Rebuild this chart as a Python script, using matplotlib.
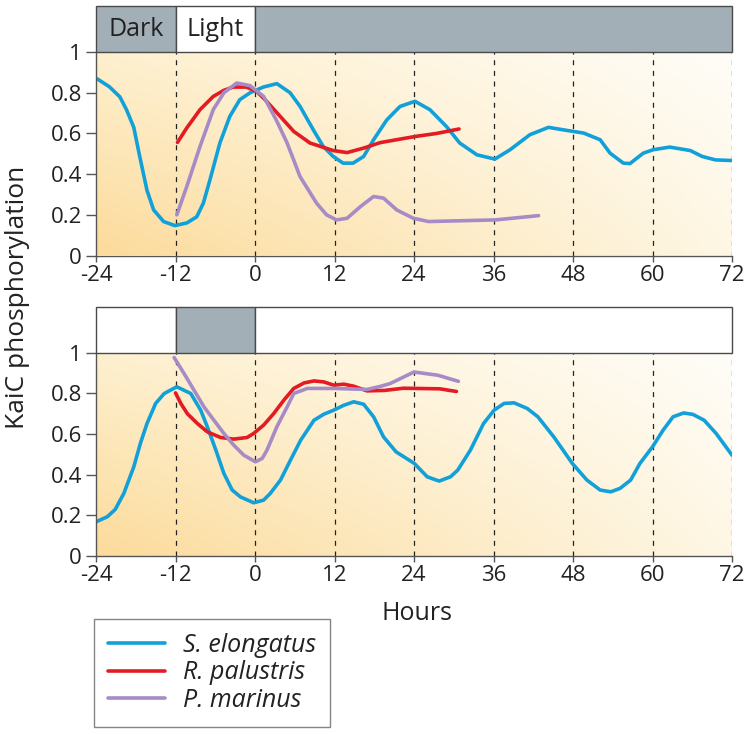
import numpy as np
import matplotlib
matplotlib.use("Agg")
from matplotlib import pyplot as plt
from matplotlib.patches import Rectangle

plt.rcParams['font.family'] = ['Open Sans', 'DejaVu Sans']

# Top panel (Dark / Light entrainment)
top_se_h = [-23.8, -22.0, -20.4, -19.4, -18.3, -17.4, -16.3, -15.3, -13.8, -12.1, -10.3, -8.8, -7.8,
            -6.8, -5.3, -3.8, -2.3, -0.75, 1.25, 3.3, 5.3, 6.8, 8.8, 10.3, 11.8, 13.3, 14.8, 16.4,
            17.9, 18.9, 19.9, 21.9, 24.15, 26.4, 28.9, 30.9, 33.5, 36.2, 38.5, 41.5, 44.3, 46.5,
            49.6, 52.1, 53.6, 55.6, 56.6, 58.6, 60.1, 62.6, 65.7, 67.5, 69.5, 72.0]
top_se_v = [0.868, 0.83, 0.78, 0.717, 0.63, 0.487, 0.32, 0.224, 0.167, 0.147, 0.16, 0.19, 0.257,
            0.372, 0.553, 0.684, 0.766, 0.80, 0.828, 0.845, 0.80, 0.733, 0.618, 0.536, 0.487, 0.454,
            0.454, 0.487, 0.569, 0.618, 0.667, 0.733, 0.758, 0.717, 0.634, 0.553, 0.495, 0.474, 0.52,
            0.594, 0.63, 0.618, 0.602, 0.569, 0.503, 0.454, 0.452, 0.503, 0.52, 0.533, 0.516, 0.487,
            0.47, 0.467]

top_rp_h = [-11.7, -10.3, -8.3, -6.3, -4.7, -3.3, -1.3, 0.25, 1.75, 3.8, 5.85, 8.3, 11.8, 13.9,
            16.4, 18.9, 24.15, 27.4, 30.8]
top_rp_v = [0.556, 0.627, 0.717, 0.782, 0.812, 0.828, 0.828, 0.807, 0.758, 0.684, 0.61, 0.553,
            0.516, 0.506, 0.528, 0.555, 0.585, 0.60, 0.622]

top_pm_h = [-11.8, -10.3, -8.3, -6.3, -4.7, -2.75, -0.75, 1.3, 3.2, 4.85, 6.8, 9.3, 10.8, 12.3,
            13.9, 15.9, 17.9, 19.4, 21.4, 23.9, 26.2, 32.5, 36.3, 42.8]
top_pm_v = [0.20, 0.339, 0.536, 0.717, 0.80, 0.848, 0.835, 0.782, 0.667, 0.553, 0.388, 0.257, 0.20,
            0.175, 0.183, 0.24, 0.29, 0.282, 0.224, 0.183, 0.167, 0.172, 0.175, 0.196]

# Bottom panel (Light / Dark entrainment)
bot_se_h = [-24.0, -22.3, -21.1, -19.8, -18.3, -17.3, -16.3, -15.0, -13.7, -11.8, -9.7, -8.2, -7.2,
            -5.9, -4.7, -3.45, -2.2, -0.2, 1.3, 2.3, 3.85, 5.35, 6.9, 8.9, 10.4, 11.9, 13.4, 14.9,
            16.4, 17.9, 19.4, 21.3, 24.05, 26.0, 27.8, 29.5, 30.6, 32.5, 34.5, 36.1, 37.6, 39.1,
            41.1, 42.7, 45.1, 47.9, 50.1, 52.1, 53.7, 55.1, 56.7, 58.1, 60.0, 61.6, 63.1, 64.7,
            66.1, 67.8, 69.6, 72.0]
bot_se_v = [0.167, 0.192, 0.228, 0.307, 0.438, 0.554, 0.652, 0.751, 0.80, 0.833, 0.80, 0.718, 0.636,
            0.52, 0.406, 0.324, 0.29, 0.261, 0.274, 0.307, 0.373, 0.471, 0.57, 0.668, 0.698, 0.718,
            0.742, 0.759, 0.747, 0.685, 0.586, 0.512, 0.455, 0.389, 0.368, 0.389, 0.422, 0.52, 0.652,
            0.718, 0.751, 0.754, 0.726, 0.685, 0.586, 0.455, 0.373, 0.324, 0.315, 0.332, 0.373,
            0.455, 0.537, 0.619, 0.685, 0.704, 0.697, 0.668, 0.603, 0.496]

bot_rp_h = [-12.0, -11.2, -10.2, -8.7, -7.2, -5.2, -3.2, -1.2, -0.2, 1.3, 2.8, 4.35, 5.85, 7.4, 8.9,
            10.4, 11.9, 13.4, 14.9, 16.9, 19.5, 22.4, 27.9, 30.4]
bot_rp_v = [0.803, 0.751, 0.70, 0.652, 0.611, 0.583, 0.575, 0.583, 0.603, 0.644, 0.70, 0.767, 0.825,
            0.852, 0.862, 0.857, 0.841, 0.846, 0.836, 0.813, 0.815, 0.826, 0.823, 0.81]

bot_pm_h = [-12.2, -10.7, -9.2, -7.7, -6.2, -4.7, -3.2, -1.7, 0.07, 1.1, 1.8, 3.3, 4.85, 5.85, 7.9,
            11.9, 16.9, 18.9, 20.4, 24.0, 27.6, 30.7]
bot_pm_v = [0.977, 0.898, 0.816, 0.734, 0.668, 0.603, 0.545, 0.496, 0.463, 0.48, 0.52, 0.636, 0.734,
            0.80, 0.825, 0.825, 0.82, 0.835, 0.849, 0.906, 0.89, 0.86]

hour_ticks = [-24, -12, 0, 12, 24, 36, 48, 60, 72]
y_ticks = [0, 0.2, 0.4, 0.6, 0.8, 1]
y_labels = ['0', '0.2', '0.4', '0.6', '0.8', '1']

# light regimes: (start, end, dark?)
top_bar = [(-24, -12, True), (-12, 0, False), (0, 72, True)]
bot_bar = [(-24, -12, False), (-12, 0, True), (0, 72, False)]

c_se = '#12a0d9'
c_rp = '#e31b23'
c_pm = '#a68bc7'
bar_gray = '#a2afb6'
bar_h = 46 / 203.0

fig = plt.figure(figsize=(7.5, 7.34), dpi=100)
ax1 = fig.add_axes([96 / 750, 1 - 255.5 / 734, 636 / 750, 249.5 / 734])
ax2 = fig.add_axes([96 / 750, 1 - 555.7 / 734, 636 / 750, 248.7 / 734])

# background gradient (orange bottom-left -> white top-right)
xx, yy = np.meshgrid(np.linspace(0, 1, 200), np.linspace(0, 1, 100))
bl = np.array([252, 219, 155]) / 255.
tl = np.array([254, 240, 207]) / 255.
tr = np.array([255, 253, 248]) / 255.
br = np.array([254, 247, 228]) / 255.
grad = ((1 - xx)[..., None] * (1 - yy)[..., None] * bl + (1 - xx)[..., None] * yy[..., None] * tl
        + xx[..., None] * yy[..., None] * tr + xx[..., None] * (1 - yy)[..., None] * br)


def setup(ax, bars, labels):
    ax.set_xlim(-24, 72)
    ax.set_ylim(0, 1 + bar_h)
    ax.imshow(grad, extent=(-24, 72, 0, 1), origin='lower', aspect='auto', zorder=0)
    for s, e, dark in bars:
        ax.add_patch(Rectangle((s, 1), e - s, bar_h, facecolor=bar_gray if dark else 'white',
                               edgecolor='#4a4a4a', lw=1.0, zorder=3, clip_on=False))
    for h in hour_ticks[1:]:
        ax.plot([h, h], [0, 1], color='#222222', lw=0.9, ls=(0, (4, 4.5)), zorder=1)
    for sp in ['top', 'right']:
        ax.spines[sp].set_visible(False)
    ax.spines['left'].set_bounds(0, 1)
    for sp in ['left', 'bottom']:
        ax.spines[sp].set_color('#555555')
        ax.spines[sp].set_linewidth(1.0)
    ax.set_xticks(hour_ticks)
    ax.set_xticklabels([str(h) for h in hour_ticks])
    ax.set_yticks(y_ticks)
    ax.set_yticklabels(y_labels)
    ax.tick_params(direction='out', width=1, color='#555555', labelsize=16,
                   labelcolor='#222222')
    ax.tick_params(axis='x', length=4.5, pad=2)
    ax.tick_params(axis='y', length=7, pad=3)
    for txt, x in labels:
        ax.text(x, 1 + bar_h / 2, txt, ha='center', va='center', fontsize=18,
                color='#222222', zorder=4)


setup(ax1, top_bar, [('Dark', -18), ('Light', -6)])
setup(ax2, bot_bar, [])

lw = 2.6
kw = dict(lw=lw, solid_joinstyle='round', solid_capstyle='round', zorder=2)
ax1.plot(top_se_h, top_se_v, color=c_se, **kw)
ax1.plot(top_rp_h, top_rp_v, color=c_rp, **kw)
ax1.plot(top_pm_h, top_pm_v, color=c_pm, **kw)

l1, = ax2.plot(bot_se_h, bot_se_v, color=c_se, **kw)
l2, = ax2.plot(bot_rp_h, bot_rp_v, color=c_rp, **kw)
l3, = ax2.plot(bot_pm_h, bot_pm_v, color=c_pm, **kw)

fig.text(0.024, 0.595, 'KaiC phosphorylation', rotation=90, ha='center', va='center',
         fontsize=19, color='#222222')
fig.text(417 / 750, 1 - 613 / 734, 'Hours', ha='center', va='center', fontsize=18, color='#222222')

leg = fig.legend([l1, l2, l3], ['S. elongatus', 'R. palustris', 'P. marinus'],
                 loc='upper left', bbox_to_anchor=(94 / 750, 1 - 619 / 734),
                 frameon=True, fancybox=False, handlelength=2.3, handletextpad=0.7,
                 labelspacing=0.1, borderpad=0.55, borderaxespad=0,
                 prop={'size': 18, 'style': 'italic'})
leg.get_frame().set_edgecolor('#666666')
leg.get_frame().set_linewidth(1.0)
for t in leg.get_texts():
    t.set_color('#222222')

fig.savefig('out.png', dpi=100)
